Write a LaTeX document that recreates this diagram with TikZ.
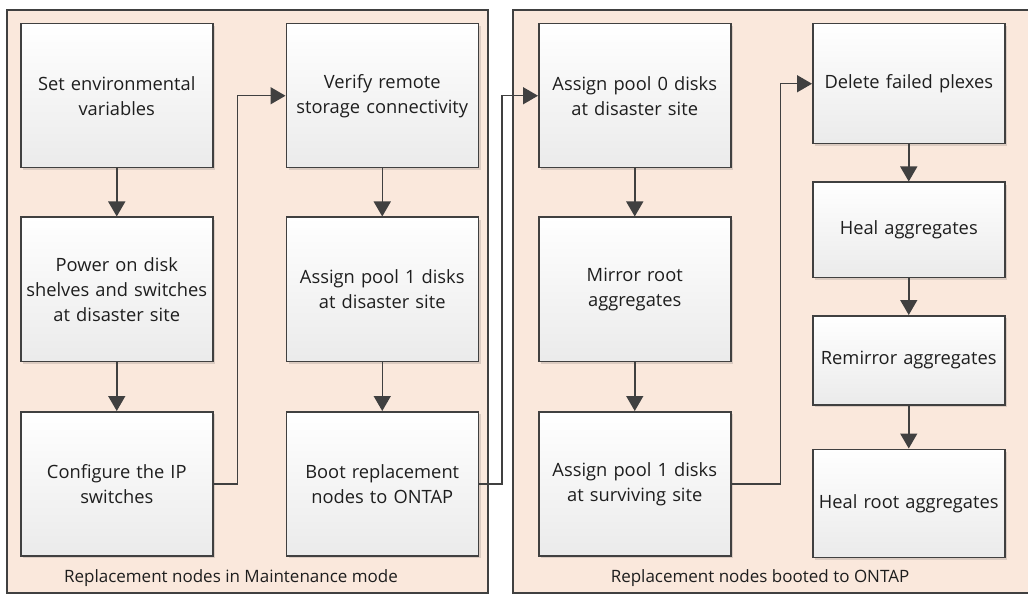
\documentclass[tikz,border=0pt]{standalone}
\usepackage{fontspec}
\setmainfont{Open Sans}
\usetikzlibrary{positioning,arrows.meta,shadows}
\definecolor{panel}{RGB}{250,232,220}
\definecolor{ink}{RGB}{64,64,64}
\definecolor{txt}{RGB}{30,30,30}
\tikzset{%
    stepbox/.style={%
        draw=ink, line width=1.5pt, top color=white, bottom color=black!8,
        drop shadow={shadow xshift=2.5pt, shadow yshift=-2.5pt, fill=black, opacity=0.12},
        minimum width=192pt, minimum height=144pt, text width=188pt, align=center,
        text=txt, font=\fontsize{18.3}{25}\selectfont, inner sep=0pt},
    panel label/.style={text=txt, font=\fontsize{17}{20}\selectfont},
    elbow/.style={-{Triangle[width=17pt,length=15pt]}, line width=1.5pt, draw=ink}
}

\begin{document}
\begin{tikzpicture}[x=1pt,y=-1pt,-{Triangle[width=17pt,length=15pt]},
  line width=1.5pt,draw=ink]

  \useasboundingbox (0,0) rectangle (1028,596);

  % the two phases
  \draw[-,fill=panel,line width=1.2pt] (7,10) rectangle (488,593);
  \draw[-,fill=panel,line width=1.2pt] (513,10) rectangle (1030,593);
  \node[panel label] (mmode) at (231,578) {Replacement nodes in Maintenance mode};
  \node[panel label] (ontap) at (760,578) {Replacement nodes booted to ONTAP};

  \node[stepbox,anchor=north west] (setvar) at (20,23) {Set environmental\\variables};
  \node[stepbox] (power) [below=48pt of setvar] {Power on disk\\shelves and switches\\at disaster site};
  \node[stepbox] (ipsw) [below=49pt of power] {Configure the IP\\switches};
  \node[stepbox] (verify) [right=72pt of setvar] {Verify remote\\storage connectivity};
  \node[stepbox] (pool1) [below=48pt of verify] {Assign pool 1 disks\\at disaster site};
  \node[stepbox] (boot) [below=49pt of pool1] {Boot replacement\\nodes to ONTAP};
  \node[stepbox] (pool0) [right=59pt of verify] {Assign pool 0 disks\\at disaster site};
  \node[stepbox] (mirror) [below=48pt of pool0] {Mirror root\\aggregates};
  \node[stepbox] (pool1s) [below=49pt of mirror] {Assign pool 1 disks\\at surviving site};
  \node[stepbox,minimum height=120pt,anchor=north west] (delplex) at (812,23) {Delete failed plexes};
  \node[stepbox,minimum height=95pt] (heal) [below=37pt of delplex] {Heal aggregates};
  \node[stepbox,minimum height=89pt] (remirror) [below=37pt of heal] {Remirror aggregates};
  \node[stepbox,minimum height=108pt] (healroot) [below=43pt of remirror] {Heal root aggregates};

  \path[draw=ink]
    (setvar) edge (power)
    (power) edge (ipsw)
    (verify) edge (pool1)
    (pool1) edge (boot)
    (pool0) edge (mirror)
    (mirror) edge (pool1s)
    (delplex) edge (heal)
    (heal) edge (remirror)
    (remirror) edge (healroot);

  % jumps to the next column
  \draw[elbow] (ipsw.east) -- ++(24,0) |- (verify.west);
  \draw[elbow] (boot.east) -- ++(23,0) |- (pool0.west);
  \draw[elbow] (pool1s.east) -- ++(49,0) |- (delplex.west);
\end{tikzpicture}
\end{document}
